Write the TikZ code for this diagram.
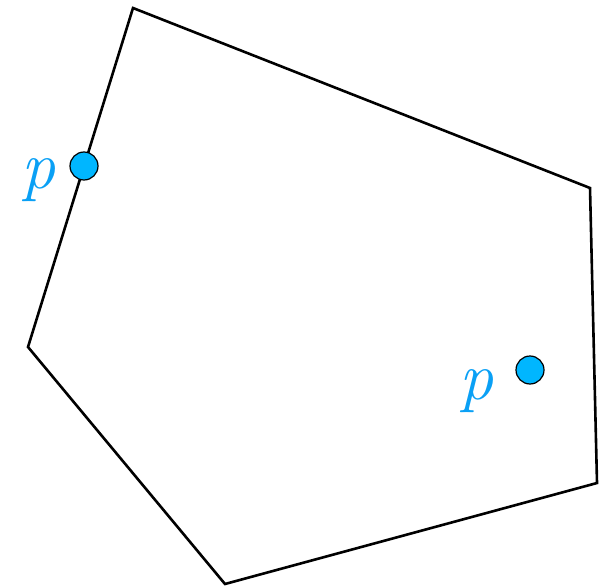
\documentclass[tikz,border=0pt]{standalone}
\usepackage{fontspec}
\definecolor{ptfill}{RGB}{0,182,255}
\definecolor{pttext}{RGB}{10,160,245}
\tikzset{
  edge/.style={line width=2.6pt, line join=miter},
  pt/.style={circle, draw=black, line width=1.2pt, fill=ptfill, minimum size=28pt, inner sep=0pt},
  plabel/.style={inner sep=0pt, text=pttext, font=\fontsize{68pt}{70pt}\selectfont\itshape}
}
\begin{document}
\begin{tikzpicture}[x=1pt,y=-1pt]
\useasboundingbox (0,0) rectangle (599,588);
\coordinate (v1) at (133,8);
\coordinate (v2) at (590,188);
\coordinate (v3) at (597,483);
\coordinate (v4) at (225,584);
\coordinate (v5) at (28,347);
\draw[edge] (v1) -- (v2) -- (v3) -- (v4) -- (v5) -- cycle;
\node[pt] (p1) at (84,166) {};
\node[pt] (p2) at (530,370) {};
\node[plabel] (l1) at (38,180) {p};
\node[plabel] (l2) at (476.5,391) {p};
\end{tikzpicture}
\end{document}
